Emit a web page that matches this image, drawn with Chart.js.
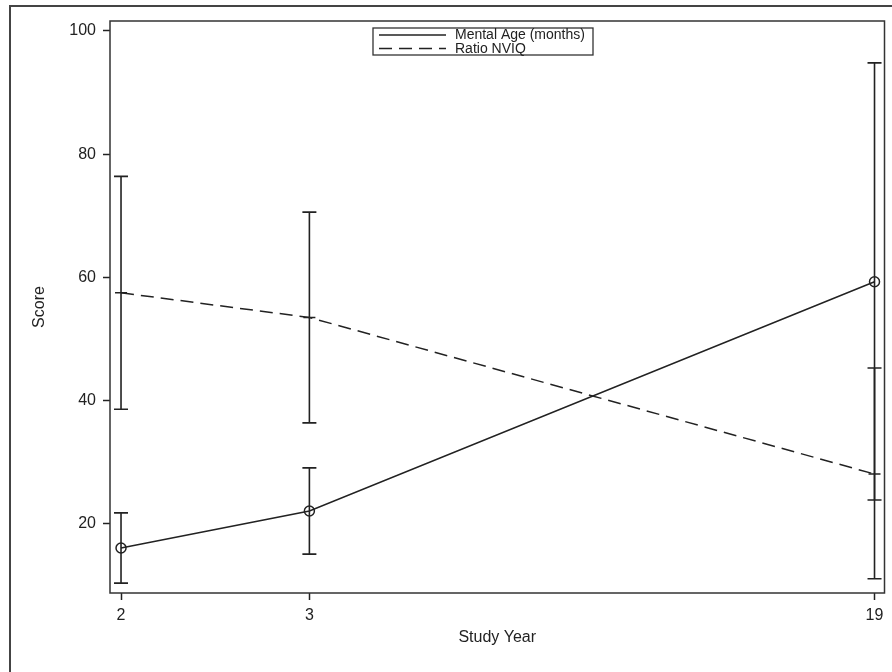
<!DOCTYPE html>
<html>
<head>
<meta charset="utf-8">
<script src="https://cdn.jsdelivr.net/npm/chart.js@4/dist/chart.umd.min.js"></script>
<style>
  html, body { margin: 0; padding: 0; background: #fff; }
  #wrap { width: 892px; height: 672px; }
</style>
</head>
<body>
<div id="wrap"><canvas id="scoreChart" width="892" height="672"></canvas></div>
<script>
// study years and where they sit on the (uneven) x axis
var years = ['2', '3', '19'];
var yearPos = [0, 1, 4];

var mentalAge = [16.1, 22.1, 59.3];
var mentalLow = [10.4, 15.1, 23.9];
var mentalHigh = [21.8, 29.1, 94.8];

var nviq = [57.5, 53.5, 28.1];
var nviqLow = [38.6, 36.4, 11.1];
var nviqHigh = [76.4, 70.6, 45.3];

var yTicks = [20, 40, 60, 80, 100];

var ink = '#222';
var fontFam = '"Liberation Sans", Arial, sans-serif';

function pts(vals) {
  return vals.map(function (v, i) { return { x: yearPos[i], y: v }; });
}

var errorBars = {
  id: 'errorBars',
  afterDatasetsDraw: function (chart) {
    var ctx = chart.ctx, xs = chart.scales.x, ys = chart.scales.y;
    var sets = [[mentalLow, mentalHigh], [nviqLow, nviqHigh]];
    ctx.save();
    ctx.strokeStyle = ink;
    ctx.lineWidth = 1.6;
    sets.forEach(function (s) {
      for (var i = 0; i < yearPos.length; i++) {
        var x = xs.getPixelForValue(yearPos[i]);
        var lo = ys.getPixelForValue(s[0][i]);
        var hi = ys.getPixelForValue(s[1][i]);
        ctx.beginPath();
        ctx.moveTo(x, lo); ctx.lineTo(x, hi);
        ctx.moveTo(x - 7, lo); ctx.lineTo(x + 7, lo);
        ctx.moveTo(x - 7, hi); ctx.lineTo(x + 7, hi);
        ctx.stroke();
      }
    });
    ctx.restore();
  }
};

var frame = {
  id: 'frame',
  afterDraw: function (chart) {
    var ctx = chart.ctx, a = chart.chartArea;
    ctx.save();
    ctx.strokeStyle = '#333';
    ctx.lineWidth = 1.5;
    ctx.strokeRect(a.left, a.top, a.right - a.left, a.bottom - a.top);
    // outer figure border (only top and left are inside the picture)
    ctx.strokeStyle = '#444';
    ctx.lineWidth = 2;
    ctx.strokeRect(10, 6, 1000, 1000);

    // legend box
    var bx = a.left + 263, by = a.top + 7, bw = 220, bh = 27;
    ctx.lineWidth = 1.3;
    ctx.strokeStyle = '#333';
    ctx.strokeRect(bx, by, bw, bh);
    ctx.font = '14px ' + fontFam;
    ctx.fillStyle = ink;
    ctx.textBaseline = 'middle';
    var labels = chart.data.datasets.map(function (d) { return d.label; });
    labels.forEach(function (lab, i) {
      var ly = by + 7 + i * 13.5;
      ctx.beginPath();
      ctx.setLineDash(i === 0 ? [] : [13, 7]);
      ctx.lineWidth = 1.5;
      ctx.strokeStyle = ink;
      ctx.moveTo(bx + 6, ly); ctx.lineTo(bx + 73, ly);
      ctx.stroke();
      ctx.setLineDash([]);
      ctx.fillText(lab, bx + 82, ly + 0.5);
    });
    ctx.restore();
  }
};

var chart = new Chart(document.getElementById('scoreChart'), {
  type: 'line',
  data: {
    datasets: [{
      label: 'Mental Age (months)',
      data: pts(mentalAge),
      borderColor: ink,
      borderWidth: 1.5,
      pointStyle: 'circle',
      pointRadius: 5,
      pointBorderWidth: 1.5,
      pointBorderColor: ink,
      pointBackgroundColor: 'rgba(0,0,0,0)',
      tension: 0
    }, {
      label: 'Ratio NVIQ',
      data: pts(nviq),
      borderColor: ink,
      borderWidth: 1.5,
      borderDash: [13, 7],
      pointStyle: 'line',
      pointRadius: 6,
      pointBorderWidth: 1.5,
      pointBorderColor: ink,
      tension: 0
    }]
  },
  options: {
    responsive: false,
    animation: false,
    layout: { padding: { left: 0, top: 21, right: 4, bottom: 0 } },
    plugins: {
      legend: { display: false },
      tooltip: { enabled: false }
    },
    scales: {
      x: {
        type: 'linear',
        min: -0.0585,
        max: 4.053,
        afterBuildTicks: function (s) {
          s.ticks = yearPos.map(function (p) { return { value: p }; });
        },
        afterFit: function (s) { s.height = 79; s.paddingLeft = 0; s.paddingRight = 0; },
        grid: { drawOnChartArea: false, tickLength: 7, tickColor: ink, tickWidth: 1.5 },
        border: { display: false },
        ticks: {
          color: ink,
          padding: 6,
          font: { family: fontFam, size: 16 },
          callback: function (v) {
            var i = yearPos.indexOf(v);
            return i >= 0 ? years[i] : '';
          }
        },
        title: {
          display: true,
          text: 'Study Year',
          color: ink,
          font: { family: fontFam, size: 16 },
          padding: { top: 0, bottom: 25 }
        }
      },
      y: {
        min: 8.8,
        max: 101.6,
        afterBuildTicks: function (s) {
          s.ticks = yTicks.map(function (v) { return { value: v }; });
        },
        afterFit: function (s) { s.width = 110; s.paddingTop = 0; s.paddingBottom = 0; },
        grid: { drawOnChartArea: false, tickLength: 7, tickColor: ink, tickWidth: 1.5 },
        border: { display: false },
        ticks: {
          color: ink,
          padding: 7,
          font: { family: fontFam, size: 16 }
        },
        title: {
          display: true,
          text: 'Score',
          color: ink,
          font: { family: fontFam, size: 16 },
          padding: { top: 30, bottom: 0 }
        }
      }
    }
  },
  plugins: [errorBars, frame]
});
</script>
</body>
</html>
